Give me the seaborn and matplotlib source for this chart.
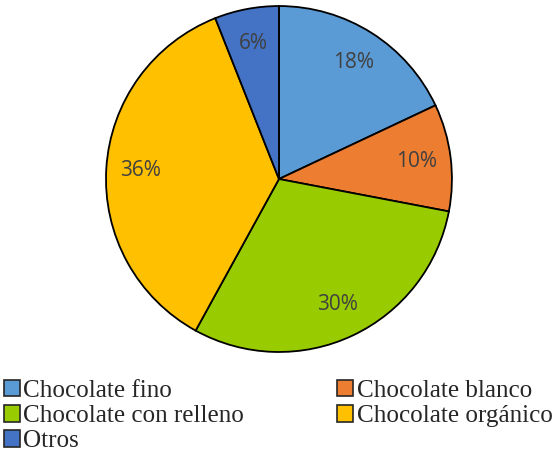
import matplotlib
matplotlib.use("Agg")
import matplotlib.pyplot as plt
import seaborn as sns
from matplotlib.patches import Patch

categories = ["Chocolate fino", "Chocolate blanco", "Chocolate con relleno",
              "Chocolate orgánico", "Otros"]
shares = [18, 10, 30, 36, 6]
colors = ["#5B9BD5", "#ED7D31", "#99CC00", "#FFC000", "#4472C4"]

sns.set_style("white")

fig = plt.figure(figsize=(5.54, 4.54), dpi=100)
ax = fig.add_axes([0.1913, 0.2247, 0.6245, 0.762])

wedges, texts, autotexts = ax.pie(
    shares,
    colors=colors,
    startangle=90,
    counterclock=False,
    autopct=lambda p: f"{p:.0f}%",
    pctdistance=0.8,
    wedgeprops=dict(edgecolor="black", linewidth=1.3),
    textprops=dict(color="#404040", fontsize=15, family=["Open Sans", "DejaVu Sans"],
                   fontstyle="normal"),
)
ax.set_xlim(-1.0, 1.0)
ax.set_ylim(-1.0, 1.0)
ax.set_aspect("equal", adjustable="box")
ax.axis("off")

# legend laid out row-wise in two columns
order = [0, 2, 4, 1, 3]
handles = [Patch(facecolor=colors[i], edgecolor="#262626", linewidth=1.2) for i in order]
labels = [categories[i] for i in order]
leg = fig.legend(
    handles, labels,
    ncol=2,
    loc="upper left",
    bbox_to_anchor=(0.007, 0.163),
    frameon=False,
    prop=dict(family="Liberation Serif", size=18.1),
    handlelength=0.63,
    handleheight=0.63,
    handletextpad=0.15,
    columnspacing=3.7,
    labelspacing=0.12,
    borderaxespad=0.0,
    borderpad=0.0,
)

fig.savefig("out.png", dpi=100)
